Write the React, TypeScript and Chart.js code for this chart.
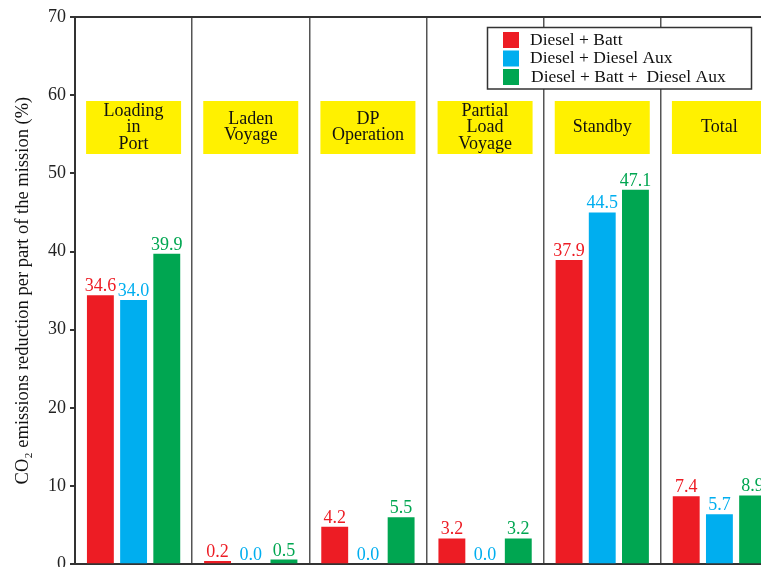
import React, { useEffect, useRef } from "react";
import { Chart, registerables } from "chart.js";
Chart.register(...registerables);

const categoryNames: string[][] = [
  ["Loading", "in", "Port"],
  ["Laden", "Voyage"],
  ["DP", "Operation"],
  ["Partial", "Load", "Voyage"],
  ["Standby"],
  ["Total"],
];
const seriesNames = ["Diesel + Batt", "Diesel + Diesel Aux", "Diesel + Batt +  Diesel Aux"];
const seriesColors = ["#ED1C24", "#00AEEF", "#00A651"];

// bar heights as drawn in the picture
const barRed = [34.4, 0.4, 4.8, 3.3, 38.9, 8.7];
const barBlue = [33.8, 0, 0, 0, 45.0, 6.4];
const barGreen = [39.7, 0.6, 6.0, 3.3, 47.9, 8.8];

// printed value labels
const labelRed = [34.6, 0.2, 4.2, 3.2, 37.9, 7.4];
const labelBlue = [34.0, 0.0, 0.0, 0.0, 44.5, 5.7];
const labelGreen = [39.9, 0.5, 5.5, 3.2, 47.1, 8.9];

const yTicksMax = 70;
const yTickStep = 10;
const yTitle = "CO\u2082 emissions reduction per part of the mission (%)";

const FONT = "'Liberation Serif', 'DejaVu Serif', serif";

export default function App() {
  const ref = useRef<HTMLCanvasElement>(null);
  useEffect(() => {
    const labelSets = [labelRed, labelBlue, labelGreen];
    const decor = {
      id: "decor",
      beforeDatasetsDraw(chart: any) {
        const { ctx, chartArea } = chart;
        const xs = chart.scales.x;
        ctx.save();
        // top border
        ctx.strokeStyle = "#333";
        ctx.lineWidth = 2;
        ctx.beginPath();
        ctx.moveTo(chartArea.left, chartArea.top);
        ctx.lineTo(chartArea.right, chartArea.top);
        ctx.stroke();
        // yellow boxes
        categoryNames.forEach((lines, i) => {
          const cx = xs.getPixelForValue(i);
          const top = chartArea.top + 84;
          const h = 53;
          ctx.fillStyle = "#FFF100";
          ctx.fillRect(cx - 47.5, top, 95, h);
          ctx.fillStyle = "#111";
          ctx.font = `18px ${FONT}`;
          ctx.textAlign = "center";
          ctx.textBaseline = "middle";
          const lh = 16.5;
          const cy = top + h / 2;
          lines.forEach((t, k) => {
            ctx.fillText(t, cx, cy + (k - (lines.length - 1) / 2) * lh);
          });
        });
        ctx.restore();
      },
      afterDatasetsDraw(chart: any) {
        const { ctx } = chart;
        ctx.save();
        ctx.font = `18px ${FONT}`;
        ctx.textAlign = "center";
        ctx.textBaseline = "alphabetic";
        chart.data.datasets.forEach((ds: any, di: number) => {
          const meta = chart.getDatasetMeta(di);
          ctx.fillStyle = seriesColors[di];
          meta.data.forEach((el: any, i: number) => {
            ctx.fillText(labelSets[di][i].toFixed(1), el.x, el.y - 4);
          });
        });
        ctx.restore();
      },
      afterDraw(chart: any) {
        const { ctx, chartArea } = chart;
        ctx.save();
        // y title
        ctx.translate(23, (chartArea.top + chartArea.bottom) / 2);
        ctx.rotate(-Math.PI / 2);
        ctx.fillStyle = "#111";
        ctx.font = `18.5px ${FONT}`;
        ctx.textAlign = "center";
        ctx.textBaseline = "middle";
        ctx.fillText(yTitle, 0, 0);
        ctx.restore();
        // legend
        ctx.save();
        ctx.fillStyle = "#fff";
        ctx.fillRect(487.5, 27.5, 264, 61.5);
        ctx.strokeStyle = "#333";
        ctx.lineWidth = 1.5;
        ctx.strokeRect(487.5, 27.5, 264, 61.5);
        ctx.font = `17.5px ${FONT}`;
        ctx.textAlign = "left";
        ctx.textBaseline = "middle";
        seriesNames.forEach((n, i) => {
          const y = 40 + i * 18.5;
          ctx.fillStyle = seriesColors[i];
          ctx.fillRect(503, y - 8, 16, 16);
          ctx.fillStyle = "#111";
          ctx.fillText(n, i === 2 ? 531 : 530, y);
        });
        ctx.restore();
      },
    };

    const chart = new Chart(ref.current!, {
      type: "bar",
      data: {
        labels: categoryNames.map((l) => l.join(" ")),
        datasets: [barRed, barBlue, barGreen].map((d, i) => ({
          label: seriesNames[i],
          data: d,
          backgroundColor: seriesColors[i],
          borderWidth: 0,
          categoryPercentage: 0.85,
          barPercentage: 0.81,
        })),
      },
      options: {
        responsive: false,
        animation: false,
        devicePixelRatio: 1,
        layout: { padding: { top: 17, bottom: 4, left: 0, right: 22 } },
        plugins: { legend: { display: false }, tooltip: { enabled: false } },
        scales: {
          x: {
            type: "category",
            offset: true,
            ticks: { display: false },
            grid: { offset: true, color: "#555", lineWidth: 1.5, drawTicks: false },
            border: { display: true, color: "#333", width: 2 },
            afterFit: (s: any) => {
              s.height = 0;
            },
          },
          y: {
            min: 0,
            max: yTicksMax,
            ticks: {
              stepSize: yTickStep,
              font: { family: FONT, size: 18 },
              color: "#222",
              padding: 4,
            },
            grid: { drawOnChartArea: false, drawTicks: true, tickLength: 5, color: "#333", lineWidth: 2 },
            border: { color: "#333", width: 2 },
            afterFit: (s: any) => {
              s.width = 75;
            },
          },
        },
      },
      plugins: [decor],
    } as any);
    return () => chart.destroy();
  }, []);
  return (
    <div
      style={{
        position: "fixed",
        left: 0,
        top: 0,
        width: 761,
        height: 567,
        overflow: "hidden",
        background: "#fff",
      }}
    >
      <canvas ref={ref} width={800} height={579} style={{ display: "block", width: 800, height: 579 }} />
    </div>
  );
}
